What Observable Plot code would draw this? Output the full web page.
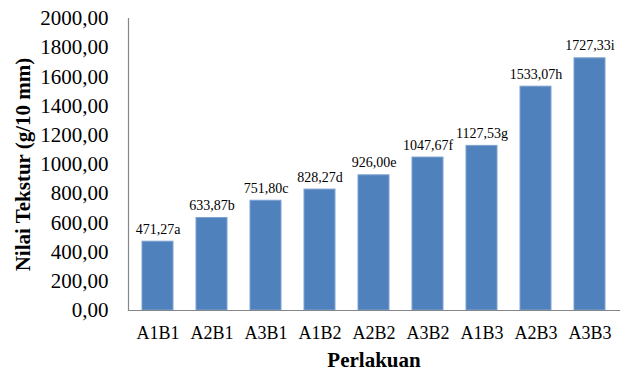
<!DOCTYPE html>
<html>
<head>
<meta charset="utf-8">
<script src="https://cdn.jsdelivr.net/npm/d3@7"></script>
<script src="https://cdn.jsdelivr.net/npm/@observablehq/plot@0.6"></script>
<style>
  html, body { margin: 0; padding: 0; background: #fff; }
  #chart svg { display: block; }
</style>
</head>
<body>
<div id="chart"></div>
<script>
// Treatments and measured texture values (g/10 mm) with significance letters
const treatments = ["A1B1", "A2B1", "A3B1", "A1B2", "A2B2", "A3B2", "A1B3", "A2B3", "A3B3"];
const values = [471.27, 633.87, 751.80, 828.27, 926.00, 1047.67, 1127.53, 1533.07, 1727.33];
const letters = ["a", "b", "c", "d", "e", "f", "g", "h", "i"];
const yTicks = [0, 200, 400, 600, 800, 1000, 1200, 1400, 1600, 1800, 2000];

const fmt = v => v.toFixed(2).replace(".", ",");

const data = treatments.map((t, i) => ({
  treatment: t,
  value: values[i],
  label: fmt(values[i]) + letters[i]
}));

const serif = "'Liberation Serif', 'Times New Roman', serif";

const chart = Plot.plot({
  width: 630,
  height: 372,
  marginLeft: 128,
  marginRight: 11,
  marginTop: 18,
  marginBottom: 62,
  style: { fontFamily: serif, background: "#fff", color: "#000" },
  x: {
    domain: treatments,
    paddingInner: 0.434,
    paddingOuter: 0.2,
    label: null
  },
  y: {
    domain: [0, 2000],
    label: null
  },
  marks: [
    Plot.barY(data, {
      x: "treatment",
      y: "value",
      fill: "#4F81BD",
      stroke: "#7FA2D0",
      strokeWidth: 1
    }),
    Plot.text(data, {
      x: "treatment",
      y: "value",
      text: "label",
      lineAnchor: "bottom",
      dy: -8,
      fontSize: 14,
      fill: "#000"
    }),
    Plot.axisY({
      ticks: yTicks,
      tickFormat: fmt,
      tickSize: 0,
      tickPadding: 20,
      fontSize: 21,
      label: null
    }),
    Plot.axisX({
      tickSize: 0,
      tickPadding: 16,
      fontSize: 18,
      label: null
    }),
    // Left and bottom axis lines
    Plot.frame({ anchor: "left", stroke: "#868686", strokeWidth: 1.2 }),
    Plot.frame({ anchor: "bottom", stroke: "#868686", strokeWidth: 1.2 }),
    Plot.axisY({
      ticks: [],
      label: "Nilai Tekstur (g/10 mm)",
      labelAnchor: "center",
      labelArrow: "none",
      labelOffset: 113,
      fontSize: 21,
      fontWeight: "bold"
    }),
    Plot.axisX({
      ticks: [],
      label: "Perlakuan",
      labelAnchor: "center",
      labelArrow: "none",
      labelOffset: 56,
      fontSize: 21,
      fontWeight: "bold"
    })
  ]
});

document.getElementById("chart").appendChild(chart);
</script>
</body>
</html>
